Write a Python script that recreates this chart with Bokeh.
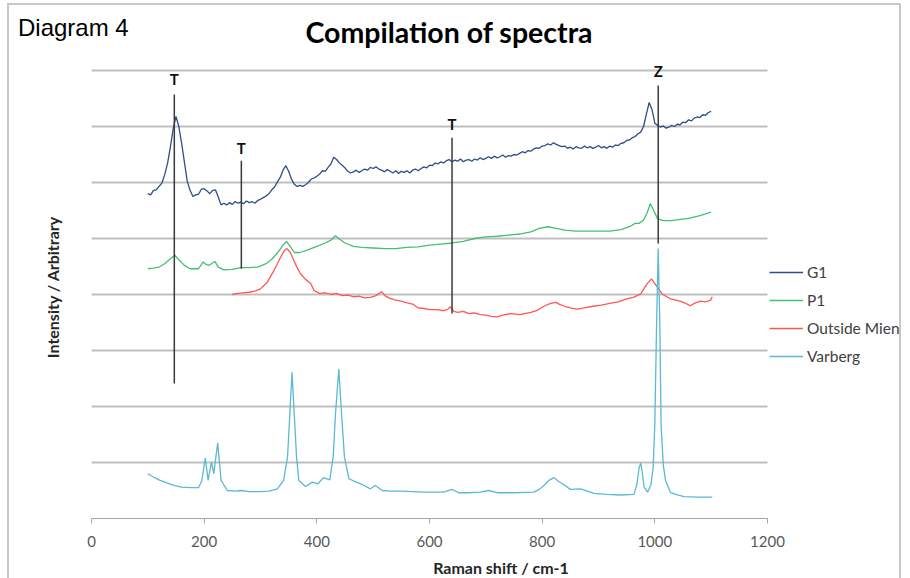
from bokeh.plotting import figure
from bokeh.layouts import column
from bokeh.models import (Range1d, FixedTicker, LabelSet, Legend, LegendItem,
                          ColumnDataSource, Div)
from bokeh.core.properties import value
from bokeh.embed import file_html
from bokeh.resources import INLINE

# ---------------- data ----------------
g1_x = list(range(100, 1101, 5))
g1_y = [5.80, 5.78, 5.86, 5.87, 5.93, 5.99, 6.14, 6.34, 6.63,
        6.96, 7.18, 7.00, 6.70, 6.36, 6.02, 5.86, 5.75, 5.78, 5.79, 5.88,
        5.89, 5.85, 5.80, 5.86, 5.87, 5.74, 5.60, 5.63, 5.60, 5.64, 5.61,
        5.66, 5.63, 5.65, 5.62, 5.67, 5.64, 5.66, 5.63, 5.68, 5.70,
        5.73, 5.76, 5.80, 5.87, 5.92, 6.01, 6.09, 6.22, 6.30,
        6.20, 6.06, 5.97, 5.93, 5.95, 5.93, 5.96, 6.00, 6.06, 6.08, 6.11,
        6.15, 6.21, 6.20, 6.27, 6.33, 6.45, 6.41, 6.35, 6.31, 6.26,
        6.20, 6.17, 6.19, 6.22, 6.18, 6.21, 6.24, 6.22, 6.27, 6.25,
        6.28, 6.24, 6.22, 6.19, 6.23, 6.20, 6.17, 6.21, 6.16, 6.20,
        6.18, 6.21, 6.17, 6.22, 6.24, 6.21, 6.25, 6.28, 6.26, 6.31,
        6.30, 6.35, 6.33, 6.37, 6.35, 6.39, 6.41, 6.37, 6.40, 6.38,
        6.42, 6.37, 6.40, 6.41, 6.38, 6.42, 6.40, 6.44, 6.41, 6.43,
        6.46, 6.43, 6.47, 6.44, 6.46, 6.49, 6.45, 6.48, 6.47, 6.50,
        6.49, 6.52, 6.55, 6.53, 6.57, 6.56, 6.60, 6.62, 6.61, 6.65,
        6.66, 6.69, 6.67, 6.71, 6.68, 6.66, 6.64, 6.65, 6.61, 6.63,
        6.60, 6.64, 6.62, 6.61, 6.65, 6.62, 6.64, 6.61, 6.63, 6.66,
        6.62, 6.64, 6.61, 6.65, 6.63, 6.67, 6.66, 6.70, 6.71, 6.75,
        6.76, 6.80, 6.82, 6.87, 6.90, 7.00, 7.22, 7.43, 7.30, 7.06,
        7.02, 6.99, 7.01, 6.97, 6.99, 7.02, 7.00, 7.04, 7.03, 7.08,
        7.07, 7.12, 7.10, 7.15, 7.17, 7.16, 7.21, 7.20, 7.25, 7.27]

p1_x = [100, 110, 120, 130, 140, 148, 155, 165, 175, 190, 198, 203, 208, 213, 219, 225, 235, 250, 265, 280,
        295, 310, 320, 330, 340, 346, 352, 360, 370, 385, 400, 415, 425, 433, 440, 450, 465, 480, 500, 520,
        540, 560, 580, 600, 620, 640, 660, 680, 700, 720, 740, 760, 780, 795, 810, 825, 840, 860, 880, 900,
        920, 940, 955, 965, 972, 980, 986, 992, 998, 1005, 1015, 1030, 1045, 1060, 1080, 1100]
p1_y = [4.46, 4.47, 4.49, 4.55, 4.64, 4.70, 4.62, 4.52, 4.46, 4.46, 4.58, 4.54, 4.52, 4.55, 4.59, 4.49, 4.44,
        4.45, 4.48, 4.48, 4.49, 4.55, 4.63, 4.74, 4.88, 4.95, 4.87, 4.75, 4.75, 4.80, 4.86, 4.92, 4.97, 5.05,
        4.99, 4.92, 4.86, 4.84, 4.83, 4.82, 4.82, 4.84, 4.85, 4.88, 4.90, 4.92, 4.95, 5.00, 5.03, 5.04, 5.06,
        5.08, 5.12, 5.18, 5.21, 5.18, 5.15, 5.13, 5.13, 5.13, 5.13, 5.16, 5.21, 5.27, 5.27, 5.33, 5.45, 5.62,
        5.50, 5.35, 5.32, 5.32, 5.34, 5.36, 5.41, 5.47]

om_x = [250, 260, 270, 280, 290, 300, 312, 324, 336, 342, 347, 353, 359, 365, 371, 380, 389, 395, 405, 415,
        425, 435, 445, 455, 465, 475, 485, 495, 505, 515, 522, 530, 540, 550, 560, 570, 580, 590, 600, 614,
        625, 632, 637, 643, 650, 660, 670, 680, 690, 700, 710, 720, 730, 745, 760, 780, 790, 803, 815, 824,
        832, 840, 850, 862, 875, 890, 905, 920, 935, 950, 962, 975, 986, 994, 1001, 1013, 1028, 1045, 1055,
        1063, 1072, 1081, 1090, 1099, 1102]
om_y = [4.00, 4.02, 4.03, 4.04, 4.06, 4.10, 4.22, 4.43, 4.67, 4.78, 4.82, 4.75, 4.61, 4.48, 4.37, 4.27, 4.20,
        4.07, 4.02, 4.03, 4.00, 4.02, 3.98, 3.99, 3.96, 3.97, 3.94, 3.95, 3.98, 4.05, 3.97, 3.93, 3.90, 3.88,
        3.85, 3.83, 3.76, 3.75, 3.73, 3.73, 3.71, 3.73, 3.78, 3.70, 3.68, 3.70, 3.66, 3.67, 3.64, 3.63, 3.61,
        3.60, 3.63, 3.66, 3.64, 3.68, 3.71, 3.79, 3.84, 3.86, 3.82, 3.79, 3.76, 3.74, 3.76, 3.79, 3.81, 3.84,
        3.87, 3.92, 3.95, 4.01, 4.19, 4.28, 4.18, 4.01, 3.92, 3.88, 3.84, 3.80, 3.85, 3.88, 3.87, 3.90, 3.96]

vb_x = [100, 110, 122, 135, 146, 160, 176, 190, 196, 202, 207, 213, 217, 224, 230, 241, 255, 265, 280, 300,
        315, 330, 341, 348, 352, 356, 360, 364, 368, 380, 392, 402, 412, 423, 429, 433, 439, 444, 449, 457,
        470, 478, 495, 504, 516, 530, 550, 570, 590, 610, 625, 640, 652, 670, 690, 705, 720, 750, 785, 795,
        803, 812, 821, 828, 836, 850, 868, 880, 892, 915, 940, 963, 968, 972, 975, 978, 981, 987, 993, 997,
        1000, 1003, 1006, 1009, 1011, 1015, 1019, 1028, 1040, 1052, 1075, 1102]
vb_y = [0.80, 0.74, 0.68, 0.63, 0.59, 0.56, 0.55, 0.55, 0.68, 1.08, 0.68, 1.01, 0.80, 1.35, 0.68, 0.50, 0.49,
        0.50, 0.48, 0.48, 0.49, 0.53, 0.68, 1.10, 1.85, 2.61, 1.85, 1.10, 0.68, 0.57, 0.65, 0.62, 0.73, 0.69,
        1.10, 1.85, 2.67, 1.85, 1.10, 0.71, 0.65, 0.62, 0.53, 0.59, 0.50, 0.49, 0.49, 0.48, 0.47, 0.47, 0.47,
        0.52, 0.46, 0.46, 0.47, 0.50, 0.46, 0.46, 0.47, 0.52, 0.59, 0.68, 0.73, 0.67, 0.62, 0.52, 0.53, 0.49,
        0.45, 0.43, 0.42, 0.43, 0.60, 0.90, 0.99, 0.80, 0.56, 0.47, 0.60, 0.90, 1.69, 3.40, 4.82, 3.40, 1.69,
        0.95, 0.68, 0.46, 0.42, 0.39, 0.38, 0.38]

series_names = ["G1", "P1", "Outside Mien", "Varberg"]

# marker lines (T / Z annotations)
mark_text = ["T", "T", "T", "Z"]
mark_x = [147, 266, 640, 1006]
mark_top = [7.57, 6.39, 6.80, 7.73]
mark_bottom = [2.41, 4.46, 3.66, 4.91]
mark_label_y = [7.84, 6.61, 7.05, 8.00]

x_min, x_max = 0, 1200
x_ticks = [0, 200, 400, 600, 800, 1000, 1200]
y_grid = [1, 2, 3, 4, 5, 6, 7, 8]

title_text = "Compilation of spectra"
corner_text = "Diagram 4"
x_label = "Raman shift / cm-1"
y_label = "Intensity / Arbitrary"

# ---------------- layout constants (pixels) ----------------
colors = ["#2D4E87", "#45BF72", "#FF5656", "#5BB9D2"]
FONT = "Lato"
HEADER_H = 55          # page rows above the plotting frame
LEFT = 91              # page x of x = 0
AXIS_RIGHT = 767       # page x of x = 1200
PAGE_W = 910
BOTTOM = 518           # page y of the x axis
UNIT_PX = 56           # pixels per grid step

frame_w = PAGE_W - LEFT
frame_h = BOTTOM - HEADER_H
x_end = x_max * frame_w / (AXIS_RIGHT - LEFT)

p = figure(output_backend="svg", toolbar_location=None,
           frame_width=frame_w, frame_height=frame_h,
           x_range=Range1d(x_min, x_end), y_range=Range1d(0, frame_h / UNIT_PX),
           min_border_left=LEFT, min_border_right=0, min_border_top=0, min_border_bottom=60)
p.outline_line_color = None
p.background_fill_alpha = 0
p.border_fill_alpha = 0
p.xgrid.visible = False
p.ygrid.visible = False

# horizontal grid lines limited to the axis extent
p.segment(x0=[x_min] * len(y_grid), x1=[x_max] * len(y_grid), y0=y_grid, y1=y_grid,
          line_color="#BFBFBF", line_width=2)

ax = p.xaxis[0]
ax.ticker = FixedTicker(ticks=x_ticks)
ax.bounds = (x_min, x_max)
ax.axis_line_color = "#A6A6A6"
ax.axis_line_width = 1
ax.major_tick_line_color = "#A6A6A6"
ax.major_tick_out = 5
ax.major_tick_in = 0
ax.minor_tick_line_color = None
ax.major_label_text_font = FONT
ax.major_label_text_font_size = "15px"
ax.major_label_text_color = "#595959"
ax.major_label_standoff = 12
ax.axis_label = x_label
ax.axis_label_text_font = FONT
ax.axis_label_text_font_style = "bold"
ax.axis_label_text_font_size = "16px"
ax.axis_label_text_color = "#262626"
ax.axis_label_standoff = 8

ay = p.yaxis[0]
ay.ticker = FixedTicker(ticks=[])
ay.axis_line_color = None
ay.major_tick_line_color = None
ay.minor_tick_line_color = None
ay.major_tick_out = 0
ay.major_tick_in = 0
ay.major_label_standoff = 0
ay.axis_label = y_label
ay.axis_label_text_font = FONT
ay.axis_label_text_font_style = "bold"
ay.axis_label_text_font_size = "16px"
ay.axis_label_text_color = "#262626"
ay.axis_label_standoff = 30

renderers = []
for xs, ys, c in zip([g1_x, p1_x, om_x, vb_x], [g1_y, p1_y, om_y, vb_y], colors):
    renderers.append(p.line(xs, ys, line_color=c, line_width=1.3))

# marker lines and their letters
msrc = ColumnDataSource(dict(x=mark_x, top=mark_top, bottom=mark_bottom, ly=mark_label_y, t=mark_text))
p.segment(x0="x", y0="bottom", x1="x", y1="top", source=msrc, line_color="#3A3A3A", line_width=1.5)
p.add_layout(LabelSet(x="x", y="ly", text="t", source=msrc, text_align="center", text_baseline="middle",
                      text_font=value(FONT), text_font_style="bold", text_font_size="15px",
                      text_color="#111111"))

legend = Legend(items=[LegendItem(label=n, renderers=[r]) for n, r in zip(series_names, renderers)],
                location=(AXIS_RIGHT + 2 - LEFT, 152), padding=0, margin=0, spacing=8, glyph_width=34,
                glyph_height=20, label_height=20, label_standoff=4, border_line_color=None,
                background_fill_alpha=0, label_text_font=FONT, label_text_font_size="15.5px",
                label_text_color="#404040")
p.add_layout(legend)

header_html = (
    '<div style="position:relative;width:910px;height:%dpx;">'
    '<div style="position:absolute;left:7px;top:3px;width:894px;height:700px;'
    'border:2px solid #C8C8C8;z-index:5;pointer-events:none;"></div>'
    '<div style="position:absolute;left:18px;top:16px;font-family:\'Liberation Sans\';'
    'font-size:24px;line-height:1;color:#000;white-space:nowrap;">%s</div>'
    '<div style="position:absolute;left:0;top:18px;width:898px;text-align:center;font-family:Lato;'
    'font-weight:bold;font-size:28.5px;line-height:1;color:#000;white-space:nowrap;">%s</div>'
    '</div>' % (HEADER_H, corner_text, title_text)
)
header = Div(text=header_html, width=PAGE_W, height=HEADER_H, margin=0)

layout = column(header, p, spacing=0, margin=0)
open("out.html", "w").write(file_html(layout, INLINE))
